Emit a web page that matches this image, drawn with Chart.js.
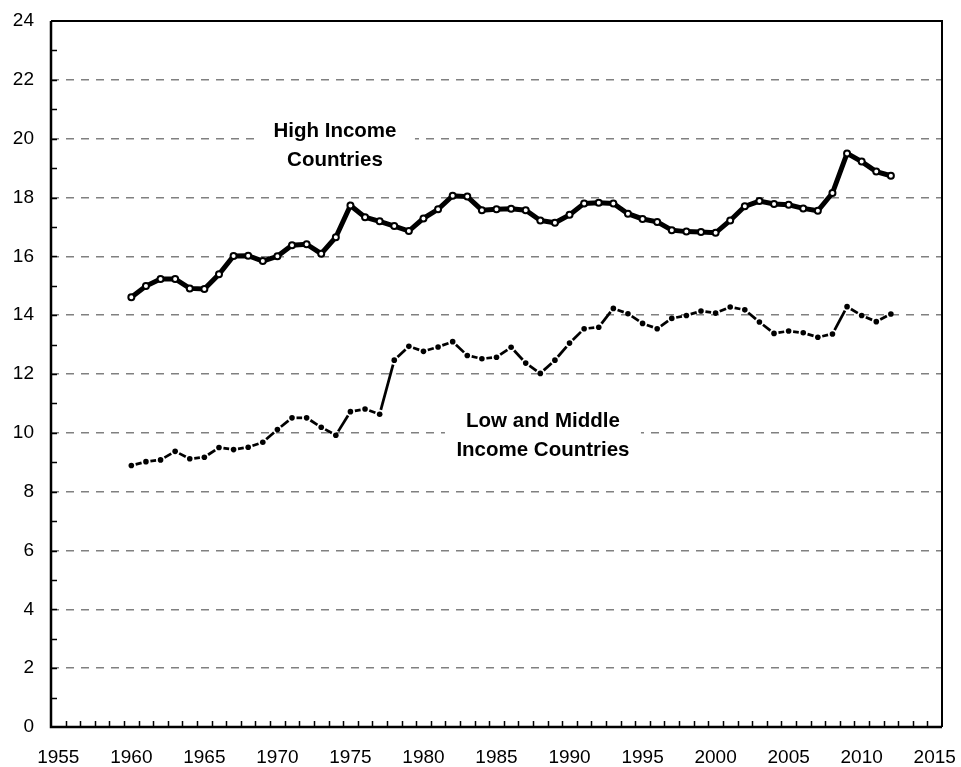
<!DOCTYPE html>
<html>
<head>
<meta charset="utf-8">
<script src="https://cdn.jsdelivr.net/npm/chart.js@4.4.1/dist/chart.umd.min.js"></script>
<style>
html, body { margin: 0; padding: 0; background: #fff; }
#wrap { width: 961px; height: 767px; }
</style>
</head>
<body>
<div id="wrap"><canvas id="chart" width="961" height="767"></canvas></div>
<script>
const years = [
  1960, 1961, 1962, 1963, 1964, 1965, 1966, 1967, 1968, 1969,
  1970, 1971, 1972, 1973, 1974, 1975, 1976, 1977, 1978, 1979,
  1980, 1981, 1982, 1983, 1984, 1985, 1986, 1987, 1988, 1989,
  1990, 1991, 1992, 1993, 1994, 1995, 1996, 1997, 1998, 1999,
  2000, 2001, 2002, 2003, 2004, 2005, 2006, 2007, 2008, 2009,
  2010, 2011, 2012
];
const highIncome = [
  14.61, 14.99, 15.23, 15.23, 14.91, 14.89, 15.39, 16.01, 16.02, 15.84,
  16.00, 16.38, 16.41, 16.09, 16.65, 17.73, 17.33, 17.19, 17.03, 16.86,
  17.29, 17.60, 18.06, 18.03, 17.57, 17.60, 17.62, 17.57, 17.22, 17.14,
  17.41, 17.80, 17.82, 17.80, 17.45, 17.27, 17.17, 16.89, 16.84, 16.83,
  16.80, 17.22, 17.70, 17.88, 17.78, 17.75, 17.63, 17.55, 18.15, 19.50,
  19.22, 18.88, 18.74
];
const lowMiddleIncome = [
  8.89, 9.02, 9.08, 9.37, 9.12, 9.17, 9.50, 9.43, 9.51, 9.68,
  10.11, 10.51, 10.51, 10.19, 9.92, 10.72, 10.81, 10.63, 12.47, 12.94,
  12.77, 12.92, 13.10, 12.63, 12.52, 12.57, 12.91, 12.37, 12.02, 12.47,
  13.05, 13.54, 13.59, 14.23, 14.05, 13.72, 13.54, 13.89, 13.99, 14.14,
  14.07, 14.28, 14.18, 13.77, 13.38, 13.46, 13.40, 13.25, 13.36, 14.29,
  13.99, 13.78, 14.04
];
const xTickLabels = [1955, 1960, 1965, 1970, 1975, 1980, 1985, 1990, 1995, 2000, 2005, 2010, 2015];
const yTickLabels = [0, 2, 4, 6, 8, 10, 12, 14, 16, 18, 20, 22, 24];
const highLabel = ['High Income', 'Countries'];
const lowLabel = ['Low and Middle', 'Income Countries'];

Chart.defaults.font.family = "'Liberation Sans', Arial, sans-serif";
Chart.defaults.color = '#000';

// frame, inward minor ticks and the two series labels
const decorations = {
  id: 'decorations',
  beforeDatasetsDraw(chart) {
    const ctx = chart.ctx;
    const x = chart.scales.x, y = chart.scales.y;
    ctx.save();
    ctx.font = "bold 20.5px 'Liberation Sans', Arial, sans-serif";
    ctx.textAlign = 'center';
    ctx.textBaseline = 'middle';
    [[highLabel, 1973.94, 20.26, 19.27, 80], [lowLabel, 1988.18, 10.40, 9.42, 98]].forEach(function (l) {
      const cx = x.getPixelForValue(l[1]);
      const y1 = y.getPixelForValue(l[2]);
      const y2 = y.getPixelForValue(l[3]);
      ctx.fillStyle = '#fff';
      ctx.fillRect(cx - l[4], y1 - 15, l[4] * 2, y2 - y1 + 30);
      ctx.fillStyle = '#000';
      ctx.fillText(l[0][0], cx, y1);
      ctx.fillText(l[0][1], cx, y2);
    });
    ctx.restore();
  },
  afterDraw(chart) {
    const ctx = chart.ctx;
    const a = chart.chartArea;
    const x = chart.scales.x, y = chart.scales.y;
    ctx.save();
    ctx.strokeStyle = '#000';
    ctx.lineWidth = 2;
    ctx.beginPath();
    ctx.moveTo(a.left, a.top);
    ctx.lineTo(a.right, a.top);
    ctx.lineTo(a.right, a.bottom);
    ctx.stroke();
    ctx.lineWidth = 2.5;
    ctx.beginPath();
    ctx.moveTo(a.left, a.top);
    ctx.lineTo(a.left, a.bottom);
    ctx.lineTo(a.right, a.bottom);
    ctx.stroke();
    ctx.lineWidth = 1.5;
    ctx.beginPath();
    for (let v = x.min + 1; v < x.max; v++) {
      const px = Math.round(x.getPixelForValue(v)) + 0.5;
      ctx.moveTo(px, a.bottom);
      ctx.lineTo(px, a.bottom - 6);
    }
    for (let v = 1; v < y.max; v++) {
      const py = Math.round(y.getPixelForValue(v)) + 0.5;
      ctx.moveTo(a.left, py);
      ctx.lineTo(a.left + 6, py);
    }
    ctx.stroke();
    ctx.restore();
  }
};

new Chart(document.getElementById('chart').getContext('2d'), {
  type: 'line',
  data: {
    datasets: [
      {
        label: 'High Income Countries',
        data: years.map((yr, i) => ({ x: yr, y: highIncome[i] })),
        borderColor: '#000',
        borderWidth: 5,
        pointRadius: 3,
        pointBorderWidth: 2,
        pointBackgroundColor: '#fff',
        pointBorderColor: '#000',
        tension: 0
      },
      {
        label: 'Low and Middle Income Countries',
        data: years.map((yr, i) => ({ x: yr, y: lowMiddleIncome[i] })),
        borderColor: '#000',
        borderWidth: 2.75,
        pointRadius: 2.8,
        pointBorderWidth: 0,
        pointBackgroundColor: '#000',
        tension: 0,
        segment: {
          // each segment: gap near both points, solid in the middle
          borderDash: function (c) {
            const len = Math.hypot(c.p1.x - c.p0.x, c.p1.y - c.p0.y);
            return [0, 4.5, Math.max(len - 9, 0.1), 200];
          },
          borderDashOffset: c => (c.p0DataIndex % 2) * 0.001
        }
      }
    ]
  },
  options: {
    responsive: false,
    animation: false,
    events: [],
    layout: { padding: { left: 0, right: 19, top: 21, bottom: 0 } },
    plugins: { legend: { display: false }, tooltip: { enabled: false } },
    scales: {
      x: {
        type: 'linear',
        min: 1954.5,
        max: 2015.5,
        afterBuildTicks: function (s) { s.ticks = xTickLabels.map(v => ({ value: v })); },
        afterFit: function (s) { s.height = 40; s.paddingLeft = 0; s.paddingRight = 0; },
        grid: { display: false, drawTicks: false },
        border: { display: false },
        ticks: { padding: 19, font: { size: 19 }, callback: v => String(v), maxRotation: 0 }
      },
      y: {
        min: 0,
        max: 24,
        afterBuildTicks: function (s) { s.ticks = yTickLabels.map(v => ({ value: v })); },
        afterFit: function (s) { s.width = 51; s.paddingTop = 0; s.paddingBottom = 0; },
        grid: {
          drawTicks: false,
          color: c => (c.tick.value === 0 || c.tick.value === 24) ? 'rgba(0,0,0,0)' : '#808080',
          lineWidth: 1.5
        },
        border: { display: false, dash: [8, 7] },
        ticks: { padding: 17, font: { size: 19 } }
      }
    }
  },
  plugins: [decorations]
});
</script>
</body>
</html>
